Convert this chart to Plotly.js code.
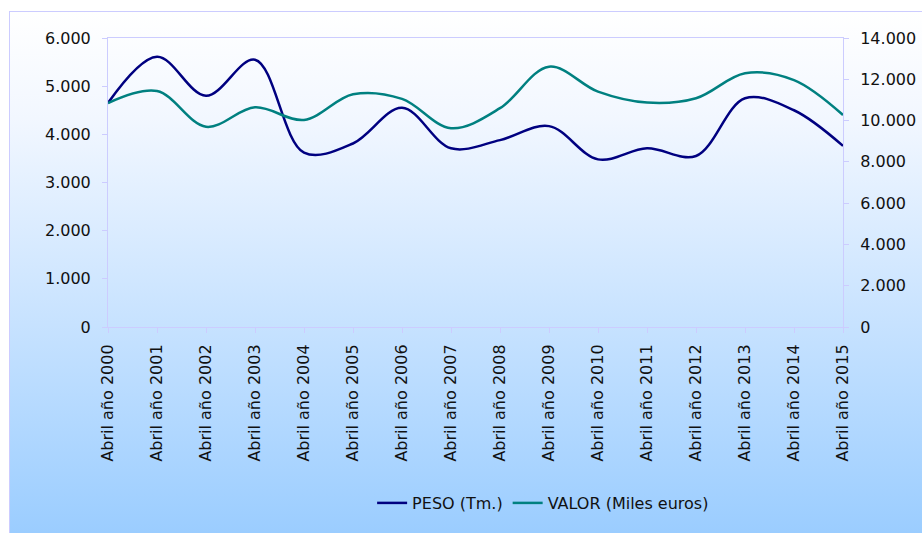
<!DOCTYPE html>
<html>
<head>
<meta charset="utf-8">
<script src="https://cdn.plot.ly/plotly-3.0.1.min.js"></script>
<style>
  body { margin: 0; background: #ffffff; }
  #wrap { position: relative; width: 922px; height: 533px; overflow: hidden; background: #ffffff; }
  #bg { position: absolute; left: 9px; top: 11px; width: 920px; height: 530px;
        border-left: 1px solid #ccccff; border-top: 1px solid #ccccff;
        background: linear-gradient(to bottom, #ffffff 0%, #f2f7ff 20%, #99ccff 100%); }
  #plot { position: absolute; left: 0; top: 0; width: 922px; height: 533px; }
</style>
</head>
<body>
<div id="wrap">
  <div id="bg"></div>
  <div id="plot"></div>
</div>
<script>
// categories (abril de cada año)
var years = ["Abril año 2000", "Abril año 2001", "Abril año 2002", "Abril año 2003",
  "Abril año 2004", "Abril año 2005", "Abril año 2006", "Abril año 2007",
  "Abril año 2008", "Abril año 2009", "Abril año 2010", "Abril año 2011",
  "Abril año 2012", "Abril año 2013", "Abril año 2014", "Abril año 2015"];

// peso en toneladas (eje izquierdo)
var peso = [4650, 5610, 4800, 5550, 3620, 3810, 4550, 3710,
  3880, 4170, 3480, 3710, 3550, 4750, 4500, 3760];

// valor en miles de euros (eje derecho)
var valor = [10850, 11430, 9700, 10640, 10030, 11270, 11050, 9630,
  10600, 12610, 11400, 10870, 11080, 12290, 11960, 10270];

var tickFont = {family: "DejaVu Sans, sans-serif", size: 16, color: "#111111"};

// Trace for peso
var trace1 = {
  x: years,
  y: peso,
  name: "PESO (Tm.)",
  type: "scatter",
  mode: "lines",
  line: {color: "#000080", width: 2.5, shape: "spline", smoothing: 1}
};

// Trace for valor on second axis
var trace2 = {
  x: years,
  y: valor,
  name: "VALOR (Miles euros)",
  type: "scatter",
  mode: "lines",
  yaxis: "y2",
  line: {color: "#008080", width: 2.5, shape: "spline", smoothing: 1}
};

var layout = {
  width: 922,
  height: 533,
  margin: {l: 108, r: 79, t: 38, b: 206},
  paper_bgcolor: "rgba(0,0,0,0)",
  plot_bgcolor: "rgba(0,0,0,0)",
  separators: ",.",
  font: tickFont,
  showlegend: true,
  legend: {
    orientation: "h",
    x: 0.592, y: -0.609,
    xanchor: "center", yanchor: "middle",
    font: tickFont,
    bgcolor: "rgba(0,0,0,0)",
    itemwidth: 30
  },
  xaxis: {
    type: "category",
    range: [0, 15],
    showgrid: false,
    showline: true,
    linecolor: "#ccccff",
    linewidth: 1,
    mirror: true,
    ticks: "outside",
    ticklen: 5,
    tickcolor: "#ccccff",
    tickangle: -90,
    tickfont: tickFont,
    ticklabelstandoff: 5,
    zeroline: false
  },
  yaxis: {
    range: [0, 6000],
    dtick: 1000,
    tickformat: ",.0f",
    showgrid: false,
    showline: true,
    linecolor: "#ccccff",
    ticks: "outside",
    ticklen: 5,
    tickcolor: "#ccccff",
    tickfont: tickFont,
    ticklabelstandoff: 8,
    zeroline: false
  },
  yaxis2: {
    range: [0, 14000],
    dtick: 2000,
    tickformat: ",.0f",
    overlaying: "y",
    side: "right",
    showgrid: false,
    showline: true,
    linecolor: "#ccccff",
    ticks: "outside",
    ticklen: 5,
    tickcolor: "#ccccff",
    tickfont: tickFont,
    ticklabelstandoff: 8,
    zeroline: false
  }
};

Plotly.newPlot("plot", [trace1, trace2], layout, {displayModeBar: false, staticPlot: true});
</script>
</body>
</html>
